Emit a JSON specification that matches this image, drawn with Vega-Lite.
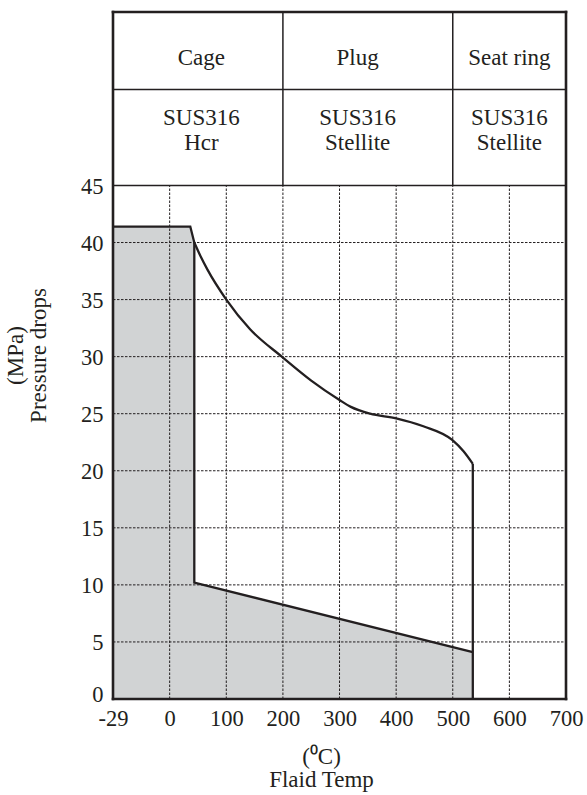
{
  "$schema": "https://vega.github.io/schema/vega-lite/v6.json",
  "width": 453,
  "height": 687,
  "autosize": "none",
  "padding": {"left": 113, "top": 12, "right": 21, "bottom": 96},
  "background": "white",
  "config": {"view": {"stroke": null}, "font": "Liberation Serif"},
  "data": {
    "values": [
      {"kind": "fill", "t": -29, "p": 41.4, "b": 0, "i": 1},
      {"kind": "fill", "t": 36.4, "p": 41.4, "b": 0, "i": 2},
      {"kind": "fill", "t": 43.5, "p": 40.0, "b": 0, "i": 3},
      {"kind": "fill", "t": 43.6, "p": 10.2, "b": 0, "i": 4},
      {"kind": "fill", "t": 535.4, "p": 4.1, "b": 0, "i": 5},

      {"kind": "out", "s": "a", "t": -29, "p": 41.4, "i": 1},
      {"kind": "out", "s": "a", "t": 36.4, "p": 41.4, "i": 2},
      {"kind": "out", "s": "a", "t": 43.5, "p": 40.0, "i": 3},
      {"kind": "out", "s": "a", "t": 43.5, "p": 10.2, "i": 4},
      {"kind": "out", "s": "a", "t": 535.4, "p": 4.1, "i": 5},
      {"kind": "out", "s": "b", "t": 535.4, "p": 0, "i": 1},
      {"kind": "out", "s": "b", "t": 535.4, "p": 20.6, "i": 2},

      {"kind": "curve", "t": 43.5, "p": 40.0, "i": 1},
      {"kind": "curve", "t": 55, "p": 38.75, "i": 2},
      {"kind": "curve", "t": 67, "p": 37.6, "i": 3},
      {"kind": "curve", "t": 100, "p": 35.0, "i": 4},
      {"kind": "curve", "t": 142, "p": 32.4, "i": 5},
      {"kind": "curve", "t": 198, "p": 30.0, "i": 6},
      {"kind": "curve", "t": 250, "p": 27.9, "i": 7},
      {"kind": "curve", "t": 300, "p": 26.2, "i": 8},
      {"kind": "curve", "t": 320, "p": 25.6, "i": 9},
      {"kind": "curve", "t": 354, "p": 25.0, "i": 10},
      {"kind": "curve", "t": 400, "p": 24.6, "i": 11},
      {"kind": "curve", "t": 448, "p": 23.9, "i": 12},
      {"kind": "curve", "t": 499, "p": 22.7, "i": 13},
      {"kind": "curve", "t": 519, "p": 21.7, "i": 14},
      {"kind": "curve", "t": 535.4, "p": 20.6, "i": 15},

      {"kind": "grid", "t": 0, "t2": 0, "p": 0, "p2": 45},
      {"kind": "grid", "t": 100, "t2": 100, "p": 0, "p2": 45},
      {"kind": "grid", "t": 200, "t2": 200, "p": 0, "p2": 45},
      {"kind": "grid", "t": 300, "t2": 300, "p": 0, "p2": 45},
      {"kind": "grid", "t": 400, "t2": 400, "p": 0, "p2": 45},
      {"kind": "grid", "t": 500, "t2": 500, "p": 0, "p2": 45},
      {"kind": "grid", "t": 600, "t2": 600, "p": 0, "p2": 45},
      {"kind": "grid", "t": -29, "t2": 700, "p": 5, "p2": 5},
      {"kind": "grid", "t": -29, "t2": 700, "p": 10, "p2": 10},
      {"kind": "grid", "t": -29, "t2": 700, "p": 15, "p2": 15},
      {"kind": "grid", "t": -29, "t2": 700, "p": 20, "p2": 20},
      {"kind": "grid", "t": -29, "t2": 700, "p": 25, "p2": 25},
      {"kind": "grid", "t": -29, "t2": 700, "p": 30, "p2": 30},
      {"kind": "grid", "t": -29, "t2": 700, "p": 35, "p2": 35},
      {"kind": "grid", "t": -29, "t2": 700, "p": 40, "p2": 40},

      {"kind": "tab", "t": -29, "t2": 700, "p": 45, "p2": 45},
      {"kind": "tab", "t": -29, "t2": 700, "p": 53.4, "p2": 53.4},
      {"kind": "tab", "t": 200, "t2": 200, "p": 45, "p2": 60.2},
      {"kind": "tab", "t": 500, "t2": 500, "p": 45, "p2": 60.2},

      {"kind": "frame", "t": -29, "t2": -29, "p": 0, "p2": 60.2},
      {"kind": "frame", "t": 700, "t2": 700, "p": 0, "p2": 60.2},
      {"kind": "frame", "t": -29, "t2": 700, "p": 0, "p2": 0},
      {"kind": "frame", "t": -29, "t2": 700, "p": 60.2, "p2": 60.2},

      {"kind": "lab", "t": 56, "p": 55.54, "txt": "Cage"},
      {"kind": "lab", "t": 332, "p": 55.54, "txt": "Plug"},
      {"kind": "lab", "t": 600, "p": 55.54, "txt": "Seat ring"},
      {"kind": "lab", "t": 56, "p": 50.28, "txt": "SUS316"},
      {"kind": "lab", "t": 56, "p": 48.1, "txt": "Hcr"},
      {"kind": "lab", "t": 332, "p": 50.28, "txt": "SUS316"},
      {"kind": "lab", "t": 332, "p": 48.1, "txt": "Stellite"},
      {"kind": "lab", "t": 600, "p": 50.28, "txt": "SUS316"},
      {"kind": "lab", "t": 600, "p": 48.1, "txt": "Stellite"}
    ]
  },
  "encoding": {
    "x": {
      "field": "t",
      "type": "quantitative",
      "scale": {"domain": [-29, 0, 700], "range": [0, 56.67, 453], "nice": false, "zero": false},
      "axis": {
        "values": [-29, 0, 100, 200, 300, 400, 500, 600, 700],
        "labelExpr": "datum.value < 0 ? '-29' : datum.label",
        "title": ["(⁰C)", "Flaid Temp"],
        "grid": false,
        "ticks": false,
        "tickSize": 0,
        "domain": false,
        "labelFont": "Liberation Serif",
        "labelFontSize": 22.5,
        "labelColor": "#231f20",
        "labelPadding": 8,
        "labelOverlap": false,
        "labelFlush": false,
        "labelBound": false,
        "titleFont": "Liberation Serif",
        "titleFontSize": 23,
        "titleFontWeight": "normal",
        "titleColor": "#231f20",
        "titleLineHeight": 23,
        "titleX": 208,
        "titleY": 46,
        "titleBaseline": "top",
        "titleAlign": "center",
        "titleAnchor": "middle"
      }
    },
    "y": {
      "field": "p",
      "type": "quantitative",
      "scale": {"domain": [0, 60.2], "nice": false, "zero": false},
      "axis": {
        "values": [0, 5, 10, 15, 20, 25, 30, 35, 40, 45],
        "title": ["(MPa)", "Pressure drops"],
        "grid": false,
        "ticks": false,
        "tickSize": 0,
        "domain": false,
        "labelFont": "Liberation Serif",
        "labelFontSize": 22.5,
        "labelColor": "#231f20",
        "labelPadding": 10,
        "labelOffset": {"condition": {"test": "datum.value === 0", "value": -5}, "value": 1},
        "labelOverlap": false,
        "labelFlush": false,
        "labelBound": false,
        "titleFont": "Liberation Serif",
        "titleFontSize": 23,
        "titleFontWeight": "normal",
        "titleColor": "#231f20",
        "titleLineHeight": 23,
        "titleAngle": 270,
        "titleX": -91,
        "titleY": 343,
        "titleBaseline": "alphabetic",
        "titleAlign": "center",
        "titleAnchor": "middle"
      }
    }
  },
  "layer": [
    {
      "transform": [{"filter": "datum.kind == 'fill'"}],
      "mark": {"type": "area", "color": "#d1d3d4", "opacity": 1, "interpolate": "linear"},
      "encoding": {
        "y2": {"field": "b"}
      }
    },
    {
      "transform": [{"filter": "datum.kind == 'grid'"}],
      "mark": {"type": "rule", "color": "#231f20", "strokeWidth": 1, "strokeDash": [2.5, 1.5]},
      "encoding": {
        "x2": {"field": "t2"},
        "y2": {"field": "p2"}
      }
    },
    {
      "transform": [{"filter": "datum.kind == 'tab'"}],
      "mark": {"type": "rule", "color": "#231f20", "strokeWidth": 1.5},
      "encoding": {
        "x2": {"field": "t2"},
        "y2": {"field": "p2"}
      }
    },
    {
      "transform": [{"filter": "datum.kind == 'out'"}],
      "mark": {"type": "line", "color": "#231f20", "strokeWidth": 2.3, "interpolate": "linear"},
      "encoding": {
        "detail": {"field": "s", "type": "nominal"},
        "order": {"field": "i", "type": "quantitative"}
      }
    },
    {
      "transform": [{"filter": "datum.kind == 'curve'"}],
      "mark": {"type": "line", "color": "#231f20", "strokeWidth": 2.3, "interpolate": "monotone"},
      "encoding": {
        "order": {"field": "i", "type": "quantitative"}
      }
    },
    {
      "transform": [{"filter": "datum.kind == 'frame'"}],
      "mark": {"type": "rule", "color": "#231f20", "strokeWidth": 2.6, "strokeCap": "square"},
      "encoding": {
        "x2": {"field": "t2"},
        "y2": {"field": "p2"}
      }
    },
    {
      "transform": [{"filter": "datum.kind == 'lab'"}],
      "mark": {"type": "text", "font": "Liberation Serif", "fontSize": 23, "color": "#231f20", "align": "center", "baseline": "alphabetic"},
      "encoding": {
        "text": {"field": "txt", "type": "nominal"}
      }
    }
  ]
}
